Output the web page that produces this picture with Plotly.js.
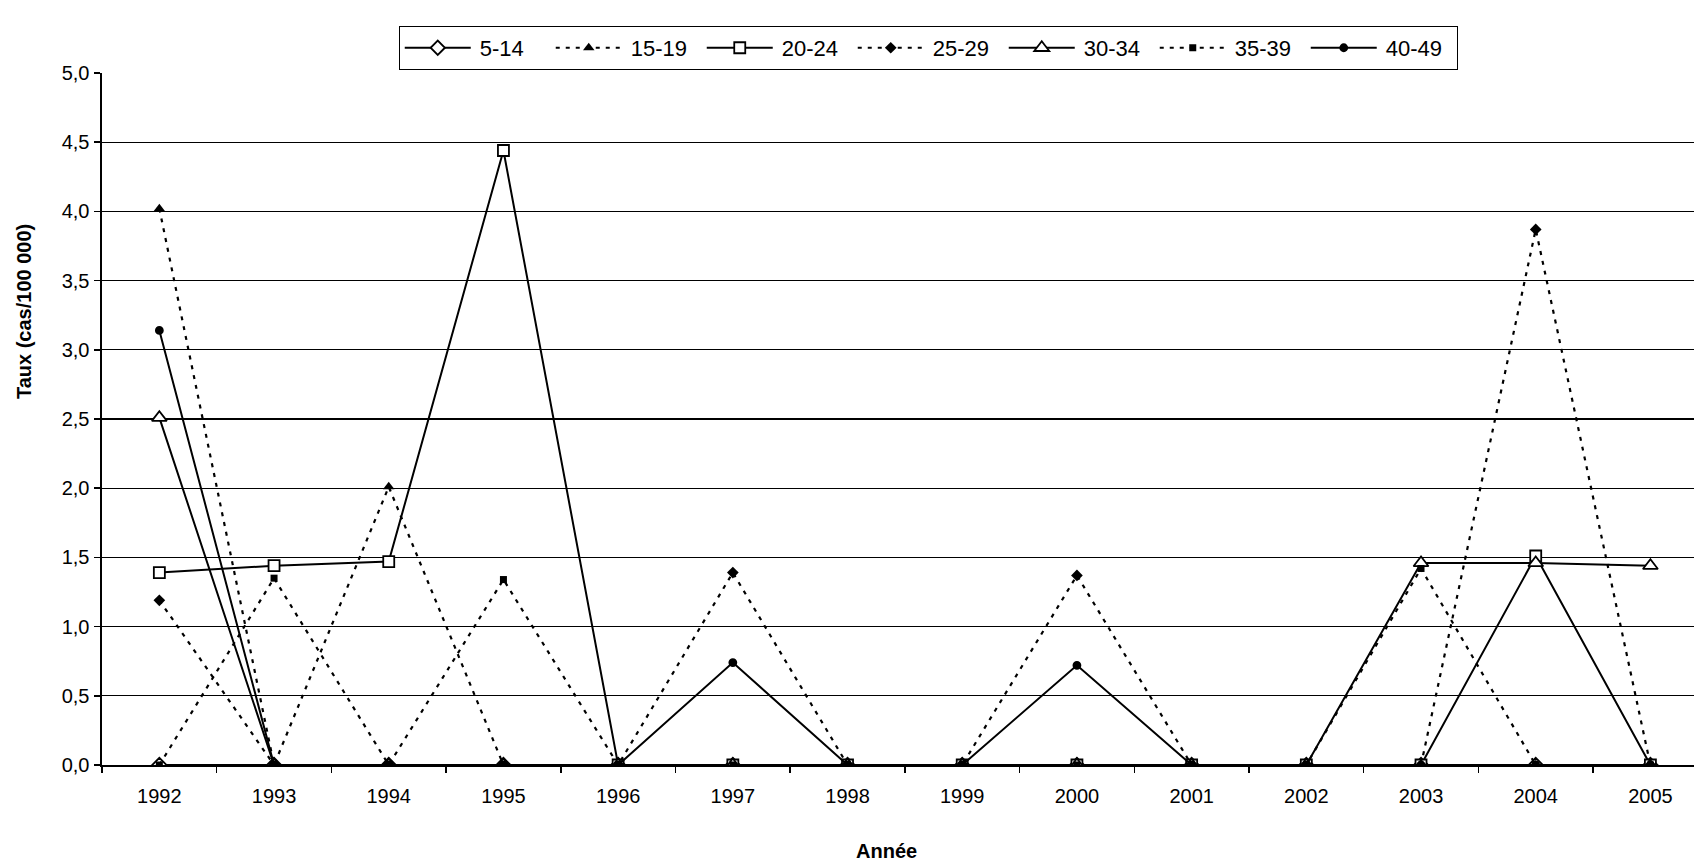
<!DOCTYPE html>
<html>
<head>
<meta charset="utf-8">
<script src="https://cdn.plot.ly/plotly-3.0.1.min.js"></script>
<style>
html,body{margin:0;padding:0;background:#fff;overflow:hidden;}
#chart{width:1694px;height:861px;}
</style>
</head>
<body>
<div id="chart"></div>
<script>
// ---- data ----
const years = ['1992','1993','1994','1995','1996','1997','1998','1999','2000','2001','2002','2003','2004','2005'];
const seriesNames = ['5-14','15-19','20-24','25-29','30-34','35-39','40-49'];
const s5_14  = [0, 0, 0, 0, 0, 0, 0, 0, 0, 0, 0, 0, 0, 0];
const s15_19 = [4.02, 0, 2.01, 0, 0, 0, 0, 0, 0, 0, 0, 0, 0, 0];
const s20_24 = [1.39, 1.44, 1.47, 4.44, 0, 0, 0, 0, 0, 0, 0, 0, 1.51, 0];
const s25_29 = [1.19, 0, 0, 0, 0, 1.39, 0, 0, 1.37, 0, 0, 0, 3.87, 0];
const s30_34 = [2.51, 0, 0, 0, 0, 0, 0, 0, 0, 0, 0, 1.46, 1.46, 1.44];
const s35_39 = [0, 1.35, 0, 1.34, 0, 0, 0, 0, 0, 0, 0, 1.42, 0, 0];
const s40_49 = [3.14, 0, 0, 0, 0, 0.74, 0, 0, 0.72, 0, 0, 0, 0, 0];
const yTickVals = [0, 0.5, 1, 1.5, 2, 2.5, 3, 3.5, 4, 4.5, 5];
const yTickText = ['0,0','0,5','1,0','1,5','2,0','2,5','3,0','3,5','4,0','4,5','5,0'];

const FONT = 'Liberation Sans, Arial, sans-serif';
const DOT = '4px,6px';

function solid(name, y, symbol, size, fill) {
  return {type:'scatter', mode:'lines+markers', name:name, x:years, y:y,
    line:{color:'black', width:2, dash:'solid'},
    marker:{symbol:symbol, size:size, color:fill, line:{color:'black', width:1.8}}};
}
function dotted(name, y, symbol, size) {
  return {type:'scatter', mode:'lines+markers', name:name, x:years, y:y,
    line:{color:'black', width:2.2, dash:DOT},
    marker:{symbol:symbol, size:size, color:'black', line:{color:'black', width:0}}};
}

const data = [
  solid(seriesNames[0], s5_14, 'diamond', 11, 'white'),
  dotted(seriesNames[1], s15_19, 'triangle-up', 10),
  solid(seriesNames[2], s20_24, 'square', 11, 'white'),
  dotted(seriesNames[3], s25_29, 'diamond', 9),
  solid(seriesNames[4], s30_34, 'triangle-up', 13, 'white'),
  dotted(seriesNames[5], s35_39, 'square', 7),
  solid(seriesNames[6], s40_49, 'circle', 7, 'black')
];

const layout = {
  width:1694, height:861,
  margin:{l:102, r:0, t:73, b:96},
  paper_bgcolor:'white', plot_bgcolor:'white',
  font:{family:FONT, size:20, color:'black'},
  showlegend:true,
  legend:{orientation:'h', x:0.519, xanchor:'center', y:1.068, yanchor:'top',
    bordercolor:'black', borderwidth:1, bgcolor:'white',
    font:{family:FONT, size:22, color:'black'},
    itemwidth:70, entrywidth:66, entrywidthmode:'pixels',
    traceorder:'normal'},
  xaxis:{type:'category', range:[-0.5, 13.38], tickson:'boundaries',
    ticks:'outside', ticklen:6, tickwidth:1.5, tickcolor:'black',
    ticklabelstandoff:12,
    showgrid:false, showline:true, linecolor:'black', linewidth:2,
    zeroline:false, tickfont:{family:FONT, size:20, color:'black'},
    fixedrange:true},
  yaxis:{range:[0,5], tickmode:'array', tickvals:yTickVals, ticktext:yTickText,
    ticks:'outside', ticklen:6, tickwidth:1.5, tickcolor:'black',
    showgrid:true, gridcolor:'black', gridwidth:1.3,
    showline:true, linecolor:'black', linewidth:2.5, zeroline:false,
    tickfont:{family:FONT, size:20, color:'black'}, fixedrange:true},
  annotations:[
    {text:'<b>Taux (cas/100 000)</b>', xref:'paper', yref:'paper',
      x:-0.049, y:0.656, textangle:-90, showarrow:false,
      font:{family:FONT, size:20, color:'black'}, xanchor:'center', yanchor:'middle'},
    {text:'<b>Année</b>', xref:'paper', yref:'paper',
      x:0.493, y:-0.124, showarrow:false,
      font:{family:FONT, size:20, color:'black'}, xanchor:'center', yanchor:'middle'}
  ]
};

Plotly.newPlot('chart', data, layout, {displayModeBar:false, staticPlot:true}).then(function(){
  // lengthen legend line samples to match the reference look
  document.querySelectorAll('.legend .legendlines path').forEach(function(p){
    p.setAttribute('d','M5,0h66');
  });
  document.querySelectorAll('.legend .legendpoints path').forEach(function(p){
    p.setAttribute('transform','translate(38,0)');
  });
});
</script>
</body>
</html>
